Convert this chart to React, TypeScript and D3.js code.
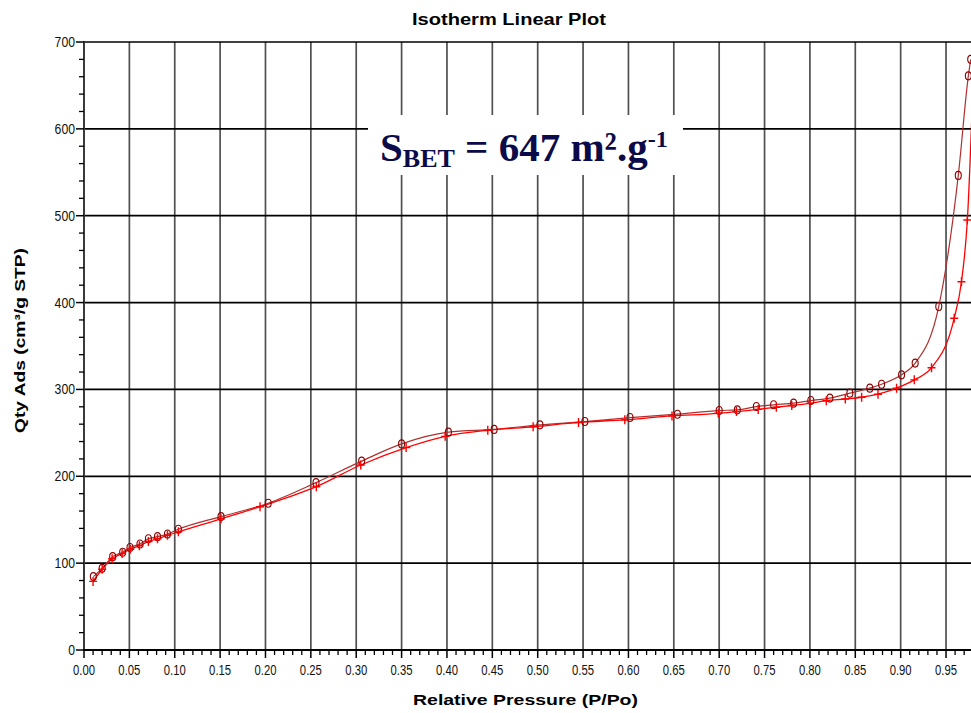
import React from "react";
import * as d3 from "d3";

// ---- data ----
const adsP = [0.010, 0.020, 0.031, 0.042, 0.051, 0.061, 0.071, 0.081, 0.092, 0.104, 0.151, 0.194, 0.256, 0.305, 0.355, 0.398, 0.445, 0.495, 0.545, 0.596, 0.648, 0.699, 0.719, 0.743, 0.763, 0.780, 0.800, 0.818, 0.839, 0.857, 0.875, 0.8955, 0.915, 0.934, 0.959, 0.967, 0.9735, 0.982];
const adsQ = [79, 93, 105, 111, 116, 120, 125, 128, 132, 136, 151, 165, 188, 213, 233, 246, 253, 257, 262, 265, 269.5, 272.5, 274.5, 277, 279.5, 281.5, 284, 287, 289, 291, 294.5, 301.5, 311, 325, 382, 424, 495, 720];

const desP = [0.0103, 0.020, 0.0316, 0.0426, 0.0507, 0.0617, 0.071, 0.081, 0.092, 0.104, 0.151, 0.203, 0.2557, 0.306, 0.350, 0.4016, 0.452, 0.5025, 0.552, 0.6017, 0.654, 0.700, 0.720, 0.741, 0.760, 0.782, 0.801, 0.822, 0.844, 0.866, 0.879, 0.901, 0.916, 0.942, 0.9635, 0.9746, 0.9772];
const desQ = [84.5, 94, 107.5, 112.5, 118, 122, 128, 130.5, 133.6, 139, 153.6, 169, 192.7, 217.5, 237.3, 250.8, 254, 259.2, 263, 267.6, 271.5, 275.7, 276.5, 280.3, 282.3, 284.2, 287.2, 290, 295.7, 301.5, 306, 316.8, 330.3, 395.5, 546.4, 661, 680];

const xTickValues = [0, 0.05, 0.1, 0.15, 0.2, 0.25, 0.3, 0.35, 0.4, 0.45, 0.5, 0.55, 0.6, 0.65, 0.7, 0.75, 0.8, 0.85, 0.9, 0.95];
const xTickLabels = ["0.00", "0.05", "0.10", "0.15", "0.20", "0.25", "0.30", "0.35", "0.40", "0.45", "0.50", "0.55", "0.60", "0.65", "0.70", "0.75", "0.80", "0.85", "0.90", "0.95"];
const yTickValues = [0, 100, 200, 300, 400, 500, 600, 700];
const yTickLabels = ["0", "100", "200", "300", "400", "500", "600", "700"];

const title = "Isotherm Linear Plot";
const xLabel = "Relative Pressure (P/Po)";
const yLabel = "Qty Ads (cm³/g STP)";

export default function App() {
  const W = 971, H = 713;
  const x0 = 84, yBottom = 650, yTop = 42;
  const x = d3.scaleLinear().domain([0, 1]).range([x0, x0 + 907.4]);
  const y = d3.scaleLinear().domain([0, 700]).range([yBottom, yTop]);

  const line = d3
    .line<[number, number]>()
    .x((d) => x(d[0]))
    .y((d) => y(d[1]))
    .curve(d3.curveMonotoneX);

  const ads: [number, number][] = adsP.map((p, i) => [p, adsQ[i]]);
  const des: [number, number][] = desP.map((p, i) => [p, desQ[i]]);

  const minorX = d3.range(0, 98).map((i) => i / 100).filter((v) => Math.round(v * 100) % 5 !== 0);
  const minorY = d3.range(0, 701, 20).filter((v) => v % 100 !== 0);

  const font = "Arial, 'Liberation Sans', sans-serif";
  const right = W + 30;

  return (
    <svg width={W} height={H} style={{ position: "absolute", left: 0, top: 0, background: "#fff" }}>
      <rect x={0} y={0} width={W} height={H} fill="#fff" />
      <defs>
        <clipPath id="plotClip">
          <rect x={x0} y={yTop - 10} width={W - x0} height={yBottom - yTop + 10} />
        </clipPath>
      </defs>

      {/* vertical grid */}
      {xTickValues.filter((v) => v > 0).map((v) => (
        <line key={"vg" + v} x1={x(v)} x2={x(v)} y1={yTop} y2={yBottom} stroke="#505050" strokeWidth={1.7} />
      ))}
      {/* horizontal grid */}
      {yTickValues.filter((v) => v > 0).map((v) => (
        <line key={"hg" + v} x1={x0} x2={right} y1={y(v)} y2={y(v)} stroke="#000" strokeWidth={1.7} />
      ))}

      {/* annotation box */}
      <rect x={368} y={115} width={315} height={60} fill="#fff" />
      <text x={380} y={161} fill="#0b0b4a" fontFamily="'Liberation Serif', 'Times New Roman', serif" fontWeight="bold" fontSize={41}>
        S
        <tspan fontSize={26} dy={6}>BET</tspan>
        <tspan dy={-6}> = 647 m²</tspan>
        <tspan>.g</tspan>
        <tspan fontSize={24} dy={-14}>-1</tspan>
      </text>

      {/* axes */}
      <line x1={x0} x2={x0} y1={yTop - 1} y2={yBottom + 1} stroke="#3a3a3a" strokeWidth={2} />
      <line x1={x0 - 1} x2={right} y1={yBottom} y2={yBottom} stroke="#000" strokeWidth={2} />

      {/* y ticks */}
      {yTickValues.map((v, i) => (
        <g key={"yt" + v}>
          <line x1={x0 - 8} x2={x0} y1={y(v)} y2={y(v)} stroke="#000" strokeWidth={1.5} />
          <text
            x={75}
            y={y(v)}
            dy="0.36em"
            textAnchor="end"
            fontFamily={font}
            fontSize={14}
            fill="#111"
            textLength={6.8 * yTickLabels[i].length}
            lengthAdjust="spacingAndGlyphs"
          >
            {yTickLabels[i]}
          </text>
        </g>
      ))}
      {minorY.map((v) => (
        <line key={"ym" + v} x1={x0 - 5} x2={x0} y1={y(v)} y2={y(v)} stroke="#000" strokeWidth={1.3} />
      ))}

      {/* x ticks */}
      {xTickValues.map((v, i) => (
        <g key={"xt" + v}>
          <line x1={x(v)} x2={x(v)} y1={yBottom} y2={yBottom + 8} stroke="#000" strokeWidth={1.5} />
          <text
            x={x(v)}
            y={675}
            textAnchor="middle"
            fontFamily={font}
            fontSize={15}
            fill="#111"
            textLength={22}
            lengthAdjust="spacingAndGlyphs"
          >
            {xTickLabels[i]}
          </text>
        </g>
      ))}
      {minorX.map((v) => (
        <line key={"xm" + v} x1={x(v)} x2={x(v)} y1={yBottom} y2={yBottom + 5} stroke="#000" strokeWidth={1.3} />
      ))}

      {/* data */}
      <g clipPath="url(#plotClip)">
        <path d={line(des) || ""} fill="none" stroke="#b03030" strokeWidth={1.2} />
        <path d={line(ads) || ""} fill="none" stroke="#ff0000" strokeWidth={1.3} />
        {des.map((d, i) => (
          <ellipse key={"dc" + i} cx={x(d[0])} cy={y(d[1])} rx={3} ry={4} fill="none" stroke="#8b0000" strokeWidth={1.1} />
        ))}
        {ads.map((d, i) => (
          <path
            key={"ap" + i}
            d={`M${x(d[0]) - 4},${y(d[1])}h8M${x(d[0])},${y(d[1]) - 4.5}v9`}
            stroke="#ff0000"
            strokeWidth={1.4}
            fill="none"
          />
        ))}
      </g>

      {/* titles */}
      <text x={509} y={25} textAnchor="middle" fontFamily={font} fontWeight="bold" fontSize={16} fill="#000" textLength={194} lengthAdjust="spacingAndGlyphs">
        {title}
      </text>
      <text x={525.5} y={705} textAnchor="middle" fontFamily={font} fontWeight="bold" fontSize={15.5} fill="#000" textLength={225} lengthAdjust="spacingAndGlyphs">
        {xLabel}
      </text>
      <text
        transform={`translate(25,340.5) rotate(-90)`}
        textAnchor="middle"
        fontFamily={font}
        fontWeight="bold"
        fontSize={15}
        fill="#000"
        textLength={185}
        lengthAdjust="spacingAndGlyphs"
      >
        {yLabel}
      </text>
    </svg>
  );
}
